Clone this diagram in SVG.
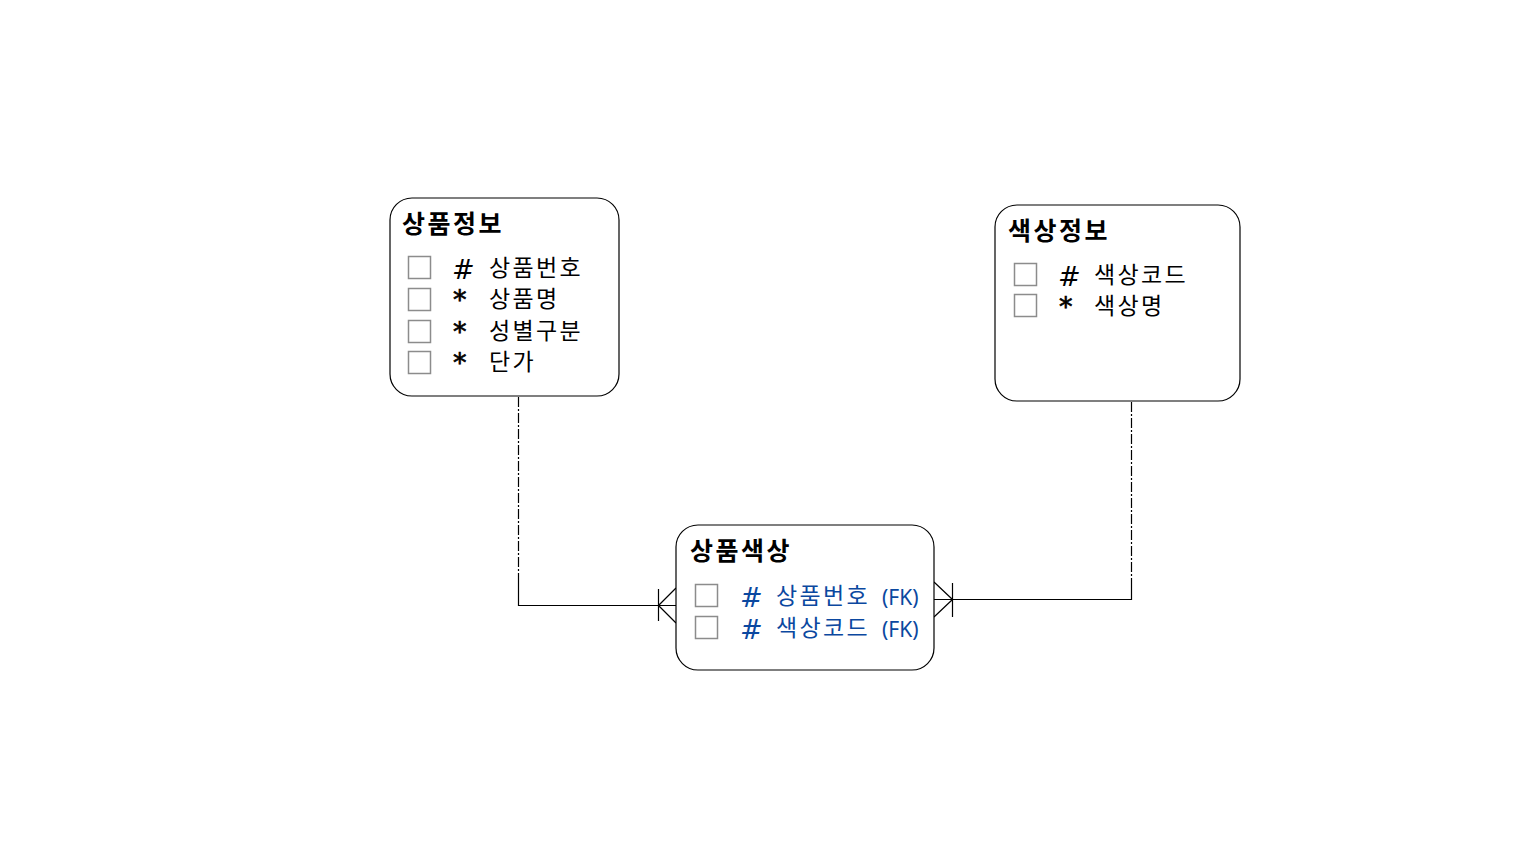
<svg xmlns="http://www.w3.org/2000/svg" width="1519" height="860" viewBox="0 0 1519 860">
<style>
.box{fill:#fff;stroke:#000;stroke-width:1.2}
.cb{fill:#fff;stroke:#8c8c8c;stroke-width:1.5}
.title{font-family:"Noto Sans CJK KR","Malgun Gothic",sans-serif;font-weight:bold;font-size:25px;fill:#000;letter-spacing:2.5px}
.item{font-family:"Noto Sans CJK KR","Malgun Gothic",sans-serif;font-size:23px;fill:#000;letter-spacing:2.3px}
.sym{font-family:"DejaVu Sans",sans-serif;font-size:27px;fill:#000}
.ast{font-family:"DejaVu Sans",sans-serif;font-size:27px;fill:#000;stroke:#000;stroke-width:0.7}
.fk{fill:#0b48a0}
.fkl{font-family:"Noto Sans",sans-serif;font-size:21px;fill:#0b48a0}
.ln{fill:none;stroke:#000;stroke-width:1.2}
.dash{fill:none;stroke:#000;stroke-width:1.2;stroke-dasharray:10 2 2 2}
</style>
<rect width="1519" height="860" fill="#fff"/>
<g id="connectors">
<path class="dash" d="M518.5 397 V577"/>
<path class="ln" d="M518.5 577 V605.5 H676"/>
<path class="ln" d="M658.5 589 V621 M658.5 605.5 L676 588 M658.5 605.5 L676 623"/>
<path class="dash" d="M1131.5 402 V588"/>
<path class="ln" d="M1131.5 588 V599.5 H934"/>
<path class="ln" d="M952.5 583 V617 M952.5 599.5 L934 582 M952.5 599.5 L934 617"/>
</g>
<g id="node-product">
<rect class="box" x="390" y="198" width="229" height="198" rx="22"/>
<text class="title" x="402" y="233">상품정보</text>
<rect class="cb" x="408.5" y="256.5" width="22" height="22"/>
<rect class="cb" x="408.5" y="288.5" width="22" height="22"/>
<rect class="cb" x="408.5" y="320.5" width="22" height="22"/>
<rect class="cb" x="408.5" y="351.5" width="22" height="22"/>
<text class="sym" x="452" y="279" font-style="italic">#</text>
<text class="ast" x="453" y="309">*</text>
<text class="ast" x="453" y="341">*</text>
<text class="ast" x="453" y="372">*</text>
<text class="item" x="489" y="276">상품번호</text>
<text class="item" x="489" y="307">상품명</text>
<text class="item" x="489" y="339">성별구분</text>
<text class="item" x="489" y="370">단가</text>
</g>
<g id="node-color">
<rect class="box" x="995" y="205" width="245" height="196" rx="22"/>
<text class="title" x="1008" y="240">색상정보</text>
<rect class="cb" x="1014.5" y="263.5" width="22" height="22"/>
<rect class="cb" x="1014.5" y="294.5" width="22" height="22"/>
<text class="sym" x="1058" y="286" font-style="italic">#</text>
<text class="ast" x="1059" y="316">*</text>
<text class="item" x="1094" y="283">색상코드</text>
<text class="item" x="1094" y="314">색상명</text>
</g>
<g id="node-productcolor">
<rect class="box" x="676" y="525" width="258" height="145" rx="22"/>
<text class="title" x="690" y="560">상품색상</text>
<rect class="cb" x="695.5" y="584.5" width="22" height="22"/>
<rect class="cb" x="695.5" y="616.5" width="22" height="22"/>
<text class="sym fk" x="740" y="607" font-style="italic">#</text>
<text class="sym fk" x="740" y="639" font-style="italic">#</text>
<text class="item fk" x="776" y="604">상품번호</text>
<text class="item fk" x="776" y="636">색상코드</text>
<text class="fkl" x="882" y="605">(FK)</text>
<text class="fkl" x="882" y="637">(FK)</text>
</g>
</svg>
